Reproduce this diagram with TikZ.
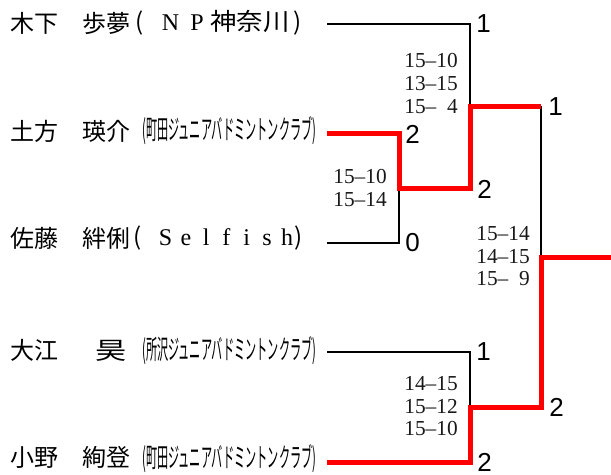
\documentclass[tikz,border=0pt]{standalone}
\usepackage{fontspec}
\usepackage{graphicx}
\newfontfamily\jpfont{Noto Sans CJK JP}
\newfontfamily\numfont{Liberation Sans}
\newfontfamily\serfont{Liberation Serif}
\newcommand\pcell[1]{\makebox[10pt][c]{#1}}
\newcommand\lcell[2]{\makebox[#1]{\serfont #2}}
\newcommand\hy{\makebox[0.5em]{–}}
\newcommand\fsp{\hphantom{0}}
\begin{document}
\begin{tikzpicture}[x=0.75pt,y=-0.75pt,
  lose/.style={draw=black,line width=0.8pt},
  win/.style={draw=red,line width=3.75pt,line join=miter},
  pname/.style={font=\jpfont\fontsize{18}{18}\selectfont,inner sep=0pt,anchor=west},
  score/.style={font=\serfont\fontsize{16}{16.9}\selectfont,align=right,inner sep=0pt,anchor=east,text=black!90},
  rnd/.style={font=\numfont\fontsize{19.5}{20}\selectfont,inner sep=0pt,anchor=west}]
\useasboundingbox (0,0) rectangle (611,475);
% players
\node[pname] (n1) at (10,23) {木下　歩夢};
\node[pname] (t1) at (132.3,23) {\pcell{(}\hspace{8.5pt}\lcell{19.9pt}{N}\lcell{19.9pt}{P}\scalebox{1.1}[1]{神奈川}\hspace{1.35pt}\pcell{)}};
\node[pname] (n2) at (10,131) {土方　瑛介};
\node[pname] (c2) at (142,131) {\resizebox{130.5pt}{1.12\height}{(町田ジュニアバドミントンクラブ)}};
\node[pname] (n3) at (10,238) {佐藤　絆俐};
\node[pname] (t3) at (130.3,238) {\pcell{(}\hspace{8.7pt}\lcell{15.2pt}{S}\lcell{15.2pt}{e}\lcell{15.2pt}{l}\lcell{15.2pt}{f}\lcell{15.2pt}{i}\lcell{15.2pt}{s}\lcell{15.2pt}{h}\hspace{-4pt}\pcell{)}};
\node[pname] (n4) at (10,350) {大江\hspace{28pt}\scalebox{1.3}[1]{昊}};
\node[pname] (c4) at (142,351) {\resizebox{130.5pt}{1.12\height}{(所沢ジュニアバドミントンクラブ)}};
\node[pname] (n5) at (10,457) {小野　絢登};
\node[pname] (c5) at (142,459) {\resizebox{130.5pt}{1.12\height}{(町田ジュニアバドミントンクラブ)}};
% line coordinates
\coordinate (p1) at (327,24);
\coordinate (p2) at (327,133);
\coordinate (p3) at (327,243);
\coordinate (p4) at (327,352);
\coordinate (p5) at (327,462);
\coordinate (w1) at (470,106);
\coordinate (w2) at (399,188);
\coordinate (w4) at (470,407);
\coordinate (f1) at (541,106);
\coordinate (wf) at (541,257);
\coordinate (e) at (611,257);
% losing lines
\draw[lose] (p1) -| (w1);
\draw[lose] (p3) -| (w2);
\draw[lose] (p4) -| (w4);
\draw[lose] (f1) -- (wf);
% winning lines
\draw[win] (p2) -| (w2) -| (w1) -- (f1);
\draw[win] (p5) -| (w4) -| (wf) -- (e);
% game counts
\node[rnd] (r1) at (476,24) {1};
\node[rnd] (r2) at (405,134) {2};
\node[rnd] (r3) at (405,243) {0};
\node[rnd] (r4) at (476,352) {1};
\node[rnd] (r5) at (477,462) {2};
\node[rnd] (q1) at (477,189) {2};
\node[rnd] (q2) at (548,107) {1};
\node[rnd] (q3) at (549,407) {2};
% scores
\node[score] (s1) at (458,83.5) {15\hy10\\13\hy15\\15\hy\fsp4};
\node[score] (s2) at (387,188) {15\hy10\\15\hy14};
\node[score] (s3) at (530,256.5) {15\hy14\\14\hy15\\15\hy\fsp9};
\node[score] (s4) at (458,406.5) {14\hy15\\15\hy12\\15\hy10};
\end{tikzpicture}
\end{document}
